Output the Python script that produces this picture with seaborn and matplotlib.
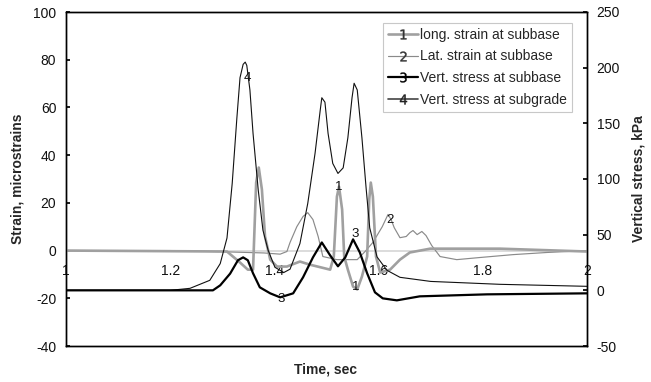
import matplotlib
matplotlib.use("Agg")
import matplotlib.pyplot as plt
from matplotlib.lines import Line2D
import seaborn as sns
import pandas as pd

# ---- data ----
t1 = [1.0, 1.309, 1.334, 1.349, 1.359, 1.365, 1.370, 1.376, 1.382, 1.392, 1.405, 1.424,
      1.449, 1.468, 1.507, 1.514, 1.520, 1.524, 1.530, 1.534, 1.541, 1.551, 1.559, 1.568,
      1.578, 1.582, 1.585, 1.589, 1.595, 1.603, 1.622, 1.641, 1.660, 1.699, 1.833, 2.0]
long_strain = [0, -0.4, -5, -8, -8, 28.5, 34.8, 25.6, 5.9, -3.8, -6.7, -6.7,
               -4.6, -5.9, -8, -2.5, 22.6, 26.8, 17.2, -2.5, -8, -15.1, -16.3, -10.9,
               -2.5, 21.4, 28.5, 22.6, -2.5, -9.2, -8, -3.8, -0.8, 0.8, 0.8, -0.4]

t2 = [1.0, 1.2, 1.3, 1.38, 1.411, 1.424, 1.430, 1.443, 1.455, 1.464, 1.474, 1.484, 1.493,
      1.520, 1.559, 1.574, 1.589, 1.607, 1.618, 1.624, 1.630, 1.641, 1.653, 1.660, 1.666,
      1.674, 1.683, 1.691, 1.702, 1.718, 1.750, 1.795, 1.858, 1.923, 2.0]
lat_strain = [0, 0, -0.5, -1, -1.5, -0.4, 3.4, 10, 14.3, 15.9, 13, 5.9, -2.5,
              -3.8, -3.8, -0.4, 3.4, 10, 15.1, 13, 9.6, 5.4, 5.9, 7.5, 8.4,
              6.7, 8, 6.3, 2.1, -2.5, -3.8, -2.9, -1.7, -0.8, 0]

t3 = [1.0, 1.282, 1.296, 1.315, 1.330, 1.340, 1.349, 1.359, 1.372, 1.392, 1.411, 1.436,
      1.455, 1.474, 1.491, 1.507, 1.522, 1.536, 1.551, 1.564, 1.578, 1.593, 1.608, 1.635,
      1.679, 1.808, 2.0]
vs_subbase = [0, 0, 4.5, 15, 27, 29.6, 27, 15.3, 2.7, -2.7, -6.3, -2.7,
              11.7, 29.6, 43, 31.4, 21.6, 29.6, 45.8, 34, 15.3, -1.8, -7.2, -9,
              -5.4, -3.6, -2.7]

t4 = [1.0, 1.20, 1.238, 1.276, 1.296, 1.309, 1.319, 1.328, 1.334, 1.340, 1.344, 1.347,
      1.353, 1.359, 1.369, 1.378, 1.388, 1.401, 1.418, 1.430, 1.449, 1.464, 1.478, 1.488,
      1.491, 1.497, 1.503, 1.512, 1.522, 1.532, 1.541, 1.549, 1.553, 1.559, 1.568, 1.576,
      1.583, 1.597, 1.616, 1.641, 1.70, 1.833, 2.0]
vs_subgrade = [0, 0, 1.8, 9, 24, 47, 96, 155, 191, 203, 205, 202,
               180, 141, 90, 54, 36, 20.7, 16, 19, 42, 78, 123, 162,
               173, 169, 141, 114, 105, 110, 137, 173, 186, 180, 137, 92,
               56, 30, 18, 11.7, 8, 5.4, 3.6]

series_names = ["long. strain at subbase", "Lat. strain at subbase",
                "Vert. stress at subbase", "Vert. stress at subgrade"]
x_ticks = [1, 1.2, 1.4, 1.6, 1.8, 2]
x_tick_labels = ["1", "1.2", "1.4", "1.6", "1.8", "2"]

# data labels (number tags on the curves)
strain_tags = [("1", 1.524, 26.5), ("1", 1.557, -15.3), ("2", 1.622, 13.0)]
stress_tags = [("4", 1.349, 191), ("3", 1.413, -7.5), ("3", 1.555, 51)]

# ---- styling ----
sns.set_theme(style="white")
plt.rcParams["font.family"] = ["Liberation Sans", "DejaVu Sans"]
plt.rcParams["font.size"] = 10
plt.rcParams["axes.unicode_minus"] = False

c1, c2, c3, c4 = "#a0a0a0", "#8a8a8a", "#000000", "#111111"
lw1, lw2, lw3, lw4 = 1.9, 0.85, 1.6, 0.8

fig = plt.figure(figsize=(6.51, 3.82), dpi=100)
ax = fig.add_axes([66 / 651, 1 - 346 / 382, 521 / 651, 334 / 382])
ax2 = ax.twinx()

df1 = pd.DataFrame({"t": t1, "v": long_strain})
df2 = pd.DataFrame({"t": t2, "v": lat_strain})
df3 = pd.DataFrame({"t": t3, "v": vs_subbase})
df4 = pd.DataFrame({"t": t4, "v": vs_subgrade})

sns.lineplot(data=df2, x="t", y="v", ax=ax, color=c2, lw=lw2, estimator=None, sort=False, zorder=3)
sns.lineplot(data=df1, x="t", y="v", ax=ax, color=c1, lw=lw1, estimator=None, sort=False, zorder=4)
sns.lineplot(data=df4, x="t", y="v", ax=ax2, color=c4, lw=lw4, estimator=None, sort=False, zorder=3)
sns.lineplot(data=df3, x="t", y="v", ax=ax2, color=c3, lw=lw3, estimator=None, sort=False, zorder=4)

ax.set_xlim(1, 2)
ax.set_ylim(-40, 100)
ax2.set_ylim(-50, 250)
ax.set_yticks([-40, -20, 0, 20, 40, 60, 80, 100])
ax2.set_yticks([-50, 0, 50, 100, 150, 200, 250])

# light-gray category axis at strain = 0
ax.axhline(0, color="#d6d6d6", lw=1.2, zorder=1)
ax.set_xticks([])
ax.set_xlabel("")
sec = ax.secondary_xaxis(40 / 140)
sec.set_xticks(x_ticks)
sec.set_xticklabels(x_tick_labels)
for s in sec.spines.values():
    s.set_visible(False)
sec.tick_params(axis="x", length=0, pad=10, labelsize=10, colors="#111111")

for a in (ax, ax2):
    for s in a.spines.values():
        s.set_visible(True)
        s.set_color("black")
        s.set_linewidth(1.0)

ax.tick_params(axis="y", direction="in", length=3, pad=7, labelsize=10, colors="black", labelcolor="#111111")
ax2.tick_params(axis="y", direction="in", length=3, pad=7, labelsize=10, colors="black", labelcolor="#111111")

ax.set_ylabel("Strain, microstrains", fontsize=10, fontweight="bold", labelpad=6)
ax2.set_ylabel("Vertical stress, kPa", fontsize=10, fontweight="bold", labelpad=8)
fig.text(326 / 651, 1 - 370 / 382, "Time, sec", fontsize=10, fontweight="bold",
         ha="center", va="center")

for txt, x, y in strain_tags:
    ax.text(x, y, txt, fontsize=9.5, ha="center", va="center", color="#111111", zorder=6)
for txt, x, y in stress_tags:
    ax2.text(x, y, txt, fontsize=9.5, ha="center", va="center", color="#111111", zorder=6)

handles = [
    Line2D([0], [0], color=c1, lw=lw1, marker="$1$", markersize=7, mfc="#333333", mec="#333333", mew=0.3),
    Line2D([0], [0], color=c2, lw=lw2, marker="$2$", markersize=7, mfc="#333333", mec="#333333", mew=0.3),
    Line2D([0], [0], color=c3, lw=lw3, marker="$3$", markersize=7, mfc="#000000", mec="#000000", mew=0.3),
    Line2D([0], [0], color="#444444", lw=lw4 + 0.4, marker="$4$", markersize=7, mfc="#222222", mec="#222222", mew=0.3),
]
leg = ax2.legend(handles, series_names, loc="upper right",
                 bbox_to_anchor=((572 - 66) / 521, (346 - 23) / 334),
                 frameon=True, fancybox=False, edgecolor="#c8c8c8", framealpha=1,
                 fontsize=10, handlelength=2.2, handletextpad=0.15, labelspacing=0.55,
                 borderpad=0.35, borderaxespad=0, numpoints=1)
leg.get_frame().set_linewidth(0.8)

fig.savefig("out.png", dpi=100)
